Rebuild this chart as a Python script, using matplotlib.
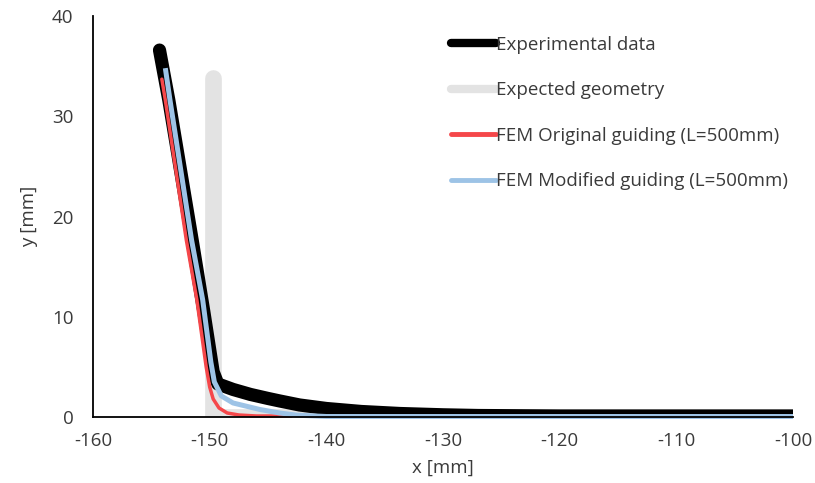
import matplotlib.pyplot as plt
from matplotlib.lines import Line2D

# --- data ---
exp_x = [-154.3, -153.5, -151.5, -150.5, -149.7, -149.3, -148.0, -146.5, -145.0,
         -144.0, -142.3, -140.0, -137.0, -133.7, -130.0, -127.0, -120.0, -110.0, -100.0]
exp_y = [36.6, 31.6, 17.65, 10.5, 4.5, 3.3, 2.75, 2.25, 1.85,
         1.6, 1.2, 0.85, 0.55, 0.35, 0.22, 0.15, 0.1, 0.1, 0.1]

geo_x = [-149.7, -149.7, -100.0]
geo_y = [33.8, 0.0, 0.0]

orig_x = [-154.1, -153.8, -152.0, -151.1, -150.3, -150.0, -149.7, -149.2,
          -148.5, -147.5, -146.0, -144.0, -143.0]
orig_y = [33.7, 31.6, 17.65, 11.7, 5.0, 3.0, 1.8, 0.9, 0.4, 0.2, 0.1, 0.1, 0.1]

mod_x = [-153.8, -153.4, -151.55, -150.6, -149.9, -149.6, -149.0, -148.0,
         -145.7, -144.0, -142.5, -140.0, -120.0, -100.0]
mod_y = [34.8, 31.6, 17.65, 11.7, 5.5, 3.5, 2.1, 1.4, 0.75, 0.4, 0.18, 0.05, 0.05, 0.05]

labels = ["Experimental data", "Expected geometry",
          "FEM Original guiding (L=500mm)", "FEM Modified guiding (L=500mm)"]
colors = ["#000000", "#e3e3e3", "#f5474a", "#9dc3e6"]

txt = "#3a3a3a"
plt.rcParams['font.family'] = ['Open Sans', 'DejaVu Sans']
plt.rcParams['axes.unicode_minus'] = False
fs = 13.5

fig = plt.figure(figsize=(8.15, 4.83), dpi=100)
ax = fig.add_axes([93 / 815, 66 / 483, 700 / 815, 401 / 483])

ax.plot(geo_x, geo_y, color=colors[1], lw=12, solid_capstyle='round',
        solid_joinstyle='round', zorder=1)
ax.plot(exp_x, exp_y, color=colors[0], lw=9.5, solid_capstyle='round',
        solid_joinstyle='round', zorder=2)
ax.plot(orig_x, orig_y, color=colors[2], lw=2.5, solid_capstyle='round',
        zorder=3, clip_on=False)
ax.plot(mod_x, mod_y, color=colors[3], lw=3.6, solid_capstyle='butt',
        zorder=4, clip_on=False)

ax.set_xlim(-160, -100)
ax.set_ylim(0, 40)
ax.set_xticks(range(-160, -99, 10))
ax.set_yticks(range(0, 41, 10))
ax.tick_params(length=0, labelsize=fs, labelcolor=txt)
ax.tick_params(axis='x', pad=11)
ax.tick_params(axis='y', pad=14)
for s in ['top', 'right']:
    ax.spines[s].set_visible(False)
for s in ['left', 'bottom']:
    ax.spines[s].set_linewidth(1.3)
    ax.spines[s].set_color('#000000')
    ax.spines[s].set_zorder(5)

ax.set_xlabel("x [mm]", fontsize=fs, color=txt, labelpad=6)
ax.set_ylabel("y [mm]", fontsize=fs, color=txt, labelpad=10)

handles = [Line2D([0], [0], color=colors[0], lw=6, solid_capstyle='round'),
           Line2D([0], [0], color=colors[1], lw=6, solid_capstyle='round'),
           Line2D([0], [0], color=colors[2], lw=3.5, solid_capstyle='round'),
           Line2D([0], [0], color=colors[3], lw=3.5, solid_capstyle='round')]
leg = ax.legend(handles, labels, loc='upper left', bbox_to_anchor=(0.5, 0.97),
                frameon=False, fontsize=fs, handlelength=2.4, handletextpad=0.05,
                labelspacing=1.47, borderaxespad=0)
for t in leg.get_texts():
    t.set_color(txt)

fig.savefig("out.png", dpi=100)
